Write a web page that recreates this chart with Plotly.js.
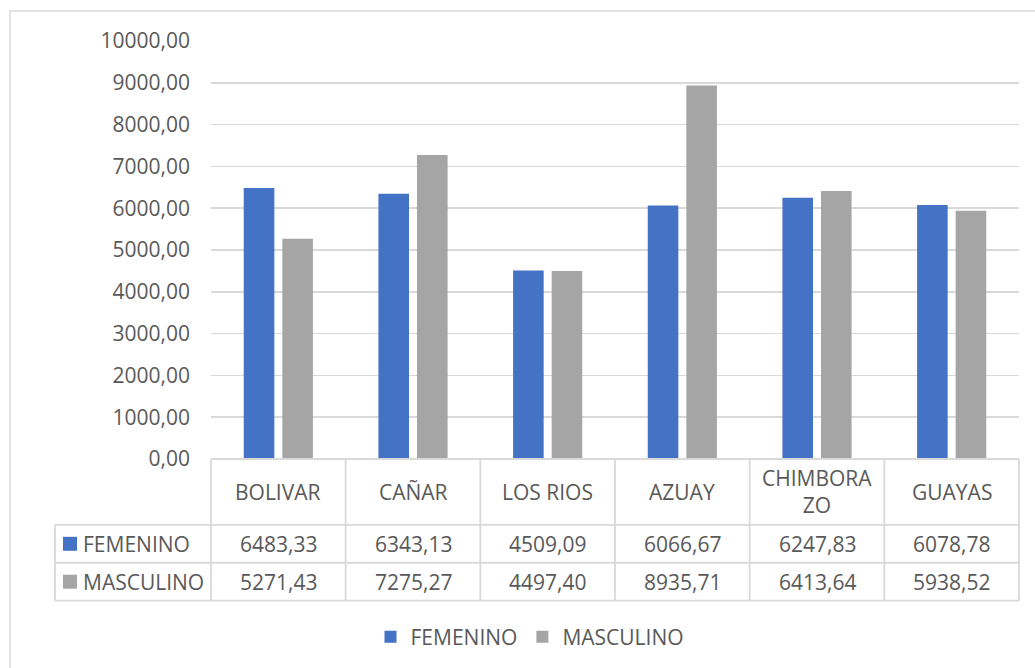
<!DOCTYPE html>
<html>
<head>
<meta charset="utf-8">
<script src="https://cdn.plot.ly/plotly-3.0.1.min.js"></script>
<style>html,body{margin:0;padding:0;background:#fff;}#chart{width:1035px;height:668px;}</style>
</head>
<body>
<div id="chart"></div>
<script>
// ---- data ----
var categories = ["BOLIVAR", "CAÑAR", "LOS RIOS", "AZUAY", "CHIMBORAZO", "GUAYAS"];
var categoryLabels = ["BOLIVAR", "CAÑAR", "LOS RIOS", "AZUAY", "CHIMBORA<br>ZO", "GUAYAS"];
var seriesNames = ["FEMENINO", "MASCULINO"];
var femenino = [6483.33, 6343.13, 4509.09, 6066.67, 6247.83, 6078.78];
var masculino = [5271.43, 7275.27, 4497.40, 8935.71, 6413.64, 5938.52];
var seriesColors = ["#4472C4", "#A5A5A5"];

// ---- layout geometry (pixels) ----
var W = 1035, H = 668;
var L = 211, R = 1019, T = 41, B = 460;
var pw = R - L, ph = B - T;
function px(x) { return (x - L) / pw; }
function py(y) { return (B - y) / ph; }
var textColor = "#595959";
var lineColor = "#D9D9D9";
var FONT = "Open Sans, sans-serif";
var FS = 21;

function fmt(v) { return v.toFixed(2).replace(".", ","); }

var seriesValues = [femenino, masculino];
var traces = seriesNames.map(function (name, k) {
  return {
    type: "bar",
    name: name,
    x: categories,
    y: seriesValues[k],
    marker: { color: seriesColors[k] },
    hoverinfo: "x+y+name"
  };
});

var n = categories.length;
var shapes = [];
var annotations = [];
function hline(y, x0, x1) {
  shapes.push({ type: "line", xref: "paper", yref: "paper", x0: px(x0), x1: px(x1), y0: py(y), y1: py(y), line: { color: lineColor, width: 1.8 } });
}
function vline(x, y0, y1) {
  shapes.push({ type: "line", xref: "paper", yref: "paper", x0: x, x1: x, y0: py(y0), y1: py(y1), line: { color: lineColor, width: 1.8 } });
}

// outer chart border (cut off at right/bottom in the reference)
shapes.push({ type: "rect", xref: "paper", yref: "paper", x0: px(10), x1: px(1045), y0: py(11), y1: py(690), line: { color: lineColor, width: 1.5 }, fillcolor: "rgba(0,0,0,0)", layer: "below" });

// data table
var rowTop = 460, rowHeader = 526, rowF = 564, rowM = 602, tableLeft = 55;
hline(rowTop, L, R);
hline(rowHeader, tableLeft, R);
hline(rowF, tableLeft, R);
hline(rowM, tableLeft, R);
vline(px(tableLeft), rowHeader, rowM);
for (var i = 0; i <= n; i++) vline(i / n, rowTop, rowM);

var rowCenters = [(rowHeader + rowF) / 2, (rowF + rowM) / 2];
for (var i = 0; i < n; i++) {
  var cx = (i + 0.5) / n;
  annotations.push({ xref: "paper", yref: "paper", x: cx, y: py((rowTop + rowHeader) / 2), text: categoryLabels[i], showarrow: false, xanchor: "center", yanchor: "middle", font: { family: FONT, size: FS, color: textColor } });
  for (var k = 0; k < seriesValues.length; k++) {
    annotations.push({ xref: "paper", yref: "paper", x: cx, y: py(rowCenters[k]), text: fmt(seriesValues[k][i]), showarrow: false, xanchor: "center", yanchor: "middle", font: { family: FONT, size: FS, color: textColor } });
  }
}
// legend keys inside the table
for (var k = 0; k < seriesNames.length; k++) {
  var c = rowCenters[k];
  shapes.push({ type: "rect", xref: "paper", yref: "paper", x0: px(63), x1: px(77), y0: py(c - 7), y1: py(c + 7), line: { width: 0 }, fillcolor: seriesColors[k] });
  annotations.push({ xref: "paper", yref: "paper", x: px(81), y: py(c), text: seriesNames[k], showarrow: false, xanchor: "left", yanchor: "middle", font: { family: FONT, size: FS, color: textColor } });
}

var layout = {
  width: W, height: H,
  margin: { l: L, r: W - R, t: T, b: H - B, pad: 0 },
  paper_bgcolor: "#ffffff",
  plot_bgcolor: "#ffffff",
  separators: ",.",
  barmode: "group",
  bargap: 0.427,
  bargroupgap: 0.207,
  font: { family: FONT, size: FS, color: textColor },
  xaxis: { showticklabels: false, ticks: "", showgrid: false, zeroline: false, showline: false, fixedrange: true },
  yaxis: {
    range: [0, 10000], dtick: 1000, tickformat: ".2f",
    showgrid: true, gridcolor: lineColor, gridwidth: 1.6,
    zeroline: false, showline: false, ticks: "",
    ticklabelstandoff: 20,
    tickfont: { family: FONT, size: FS, color: textColor }
  },
  showlegend: true,
  legend: {
    orientation: "h", x: px(530), xanchor: "center", y: py(637), yanchor: "middle",
    font: { family: FONT, size: FS, color: textColor }, itemwidth: 30, traceorder: "normal"
  },
  shapes: shapes,
  annotations: annotations
};

Plotly.newPlot("chart", traces, layout, { displayModeBar: false, staticPlot: true });
</script>
</body>
</html>
